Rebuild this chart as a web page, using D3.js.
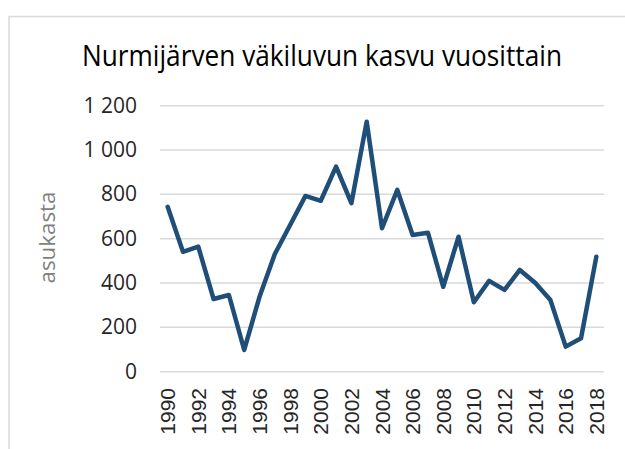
<!DOCTYPE html>
<html>
<head>
<meta charset="utf-8">
<script src="https://cdn.jsdelivr.net/npm/d3@7"></script>
<style>
  body { margin: 0; background: #fff; }
</style>
</head>
<body>
<div id="chart"></div>
<script>
// vuodet ja väkiluvun kasvu (luettu kuvasta)
var years = [1990,1991,1992,1993,1994,1995,1996,1997,1998,1999,2000,2001,2002,2003,2004,
             2005,2006,2007,2008,2009,2010,2011,2012,2013,2014,2015,2016,2017,2018];
var growth = [744,541,564,328,346,98,338,531,662,793,771,925,760,1128,647,
              820,617,627,383,609,313,410,369,459,401,323,113,151,519];
var yTicks = [0,200,400,600,800,1000,1200];
var xLabels = years.filter(function(y){ return y % 2 === 0; });

var W = 625, H = 449;
var svg = d3.select("#chart").append("svg")
    .attr("width", W).attr("height", H);

// chart area border
svg.append("rect")
    .attr("x", 9).attr("y", 16.5)
    .attr("width", 700).attr("height", 500)
    .attr("fill", "none")
    .attr("stroke", "#d9d9d9")
    .attr("stroke-width", 1.5);

var x = d3.scaleBand().domain(years).range([160, 604]);
var y = d3.scaleLinear().domain([0, 1200]).range([371.7, 105.7]);

// gridlines
svg.append("g").selectAll("line")
    .data(yTicks).enter().append("line")
    .attr("x1", 160).attr("x2", 604)
    .attr("y1", function(d){ return y(d); })
    .attr("y2", function(d){ return y(d); })
    .attr("stroke", "#d9d9d9")
    .attr("stroke-width", 1.5);

// y axis labels
var fmt = function(d){ return d3.format(",")(d).replace(",", " "); };
svg.append("g").selectAll("text")
    .data(yTicks).enter().append("text")
    .attr("x", 137)
    .attr("y", function(d){ return y(d); })
    .attr("dy", "0.33em")
    .attr("text-anchor", "end")
    .style("font-family", "'Open Sans', sans-serif")
    .style("font-size", "21px")
    .style("fill", "#262626")
    .text(fmt);

// x axis labels
svg.append("g").selectAll("text")
    .data(xLabels).enter().append("text")
    .attr("transform", function(d){
        return "translate(" + (x(d) + x.bandwidth() / 2 + 7.5) + ",388) rotate(-90)";
    })
    .attr("text-anchor", "end")
    .style("font-family", "'Liberation Sans', Arial, sans-serif")
    .style("font-size", "21px")
    .style("fill", "#262626")
    .text(function(d){ return d; });

// line
var line = d3.line()
    .x(function(d, i){ return x(years[i]) + x.bandwidth() / 2; })
    .y(function(d){ return y(d); });

svg.append("path")
    .datum(growth)
    .attr("d", line)
    .attr("fill", "none")
    .attr("stroke", "#1f4e79")
    .attr("stroke-width", 4.5)
    .attr("stroke-linejoin", "round")
    .attr("stroke-linecap", "round");

// title
svg.append("text")
    .attr("x", 82).attr("y", 66)
    .attr("textLength", 480)
    .attr("lengthAdjust", "spacingAndGlyphs")
    .style("font-family", "'Open Sans', sans-serif")
    .style("font-size", "29px")
    .style("fill", "#000")
    .text("Nurmijärven väkiluvun kasvu vuosittain");

// y axis title
svg.append("text")
    .attr("transform", "translate(55,237.5) rotate(-90)")
    .attr("text-anchor", "middle")
    .attr("textLength", 92)
    .attr("lengthAdjust", "spacingAndGlyphs")
    .style("font-family", "'Open Sans', sans-serif")
    .style("font-size", "22px")
    .style("fill", "#7f7f7f")
    .text("asukasta");
</script>
</body>
</html>
